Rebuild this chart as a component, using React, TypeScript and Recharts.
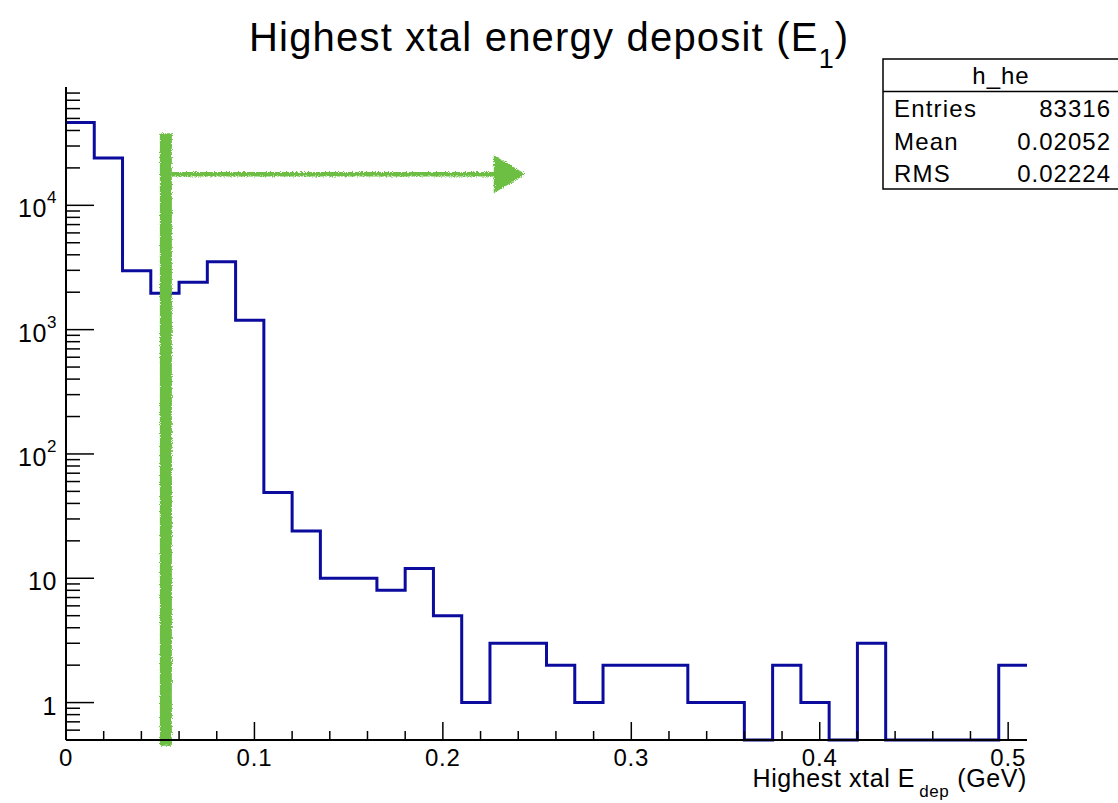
import React from 'react';
import { LineChart, Line, XAxis, YAxis, ReferenceLine } from 'recharts';

// h_he: highest crystal energy deposit, 34 bins of 15 MeV
const BIN_WIDTH = 0.015;
const COUNTS = [
  46300, 24000, 2970, 1960, 2410, 3510, 1190, 49, 24, 10, 10, 8, 12, 5, 1, 3, 3,
  2, 1, 2, 2, 2, 1, 1, 0, 2, 1, 0, 3, 0, 0, 0, 0, 2,
];

const STATS = [
  { name: 'Entries', value: '83316' },
  { name: 'Mean', value: '0.02052' },
  { name: 'RMS', value: '0.02224' },
];

const X_MAX = 0.51;
const Y_MIN = 0.5;
const Y_MAX = 89500;
const X_MAJOR = [0, 0.1, 0.2, 0.3, 0.4, 0.5];
const Y_MAJOR = [1, 10, 100, 1000, 10000];

// cut on E1 and the accepted region arrow
const CUT_E = 0.053;
const CUT_TOP = 38000;
const CUT_BOTTOM = 0.45;
const ARROW_END = 0.244;
const ARROW_LEVEL = 17800;

const W = 1118;
const H = 803;
const FONT = '"Liberation Sans", Arial, Helvetica, sans-serif';
const BLUE = '#0b0b9e';
const GREEN = '#6cbf43';

// step rows: one point per low bin edge, plus the upper edge of the last bin
const rows = COUNTS.map((c, i) => ({ e: +(i * BIN_WIDTH).toFixed(3), n: Math.max(c, Y_MIN) }));
rows.push({ e: X_MAX, n: Math.max(COUNTS[COUNTS.length - 1], Y_MIN) });

// minor ticks every 0.02 on x, 2..9 per decade on y
const xTicks: number[] = [];
for (let i = 0; i * 0.02 <= 0.5 + 1e-9; i++) xTicks.push(+(i * 0.02).toFixed(2));
const yTicks: number[] = [];
for (let d = -1; d <= 4; d++) {
  for (let m = 1; m <= 9; m++) {
    const v = +(m * Math.pow(10, d)).toPrecision(3);
    if (v > Y_MIN && v < Y_MAX) yTicks.push(v);
  }
}

const isMajorX = (v: number) => X_MAJOR.some((m) => Math.abs(m - v) < 1e-9);

const XTick = (props: any) => {
  const { x, y, payload } = props;
  const v = payload.value as number;
  const major = isMajorX(v);
  return (
    <g>
      <line x1={x} x2={x} y1={y} y2={y - (major ? 18 : 9)} stroke="#000" strokeWidth={1.5} />
      {major && (
        <text x={x} y={y + 26} textAnchor="middle" fontSize={24} letterSpacing={0.8} fontFamily={FONT} fill="#000">
          {v === 0 ? '0' : String(v)}
        </text>
      )}
    </g>
  );
};

const YTick = (props: any) => {
  const { x, y, payload } = props;
  const v = payload.value as number;
  const major = Y_MAJOR.includes(v);
  const exp = Math.round(Math.log10(v));
  return (
    <g>
      <line x1={x} x2={x + (major ? 28 : 14)} y1={y} y2={y} stroke="#000" strokeWidth={1.5} />
      {major && (
        <text x={x - 9} y={y + 12} textAnchor="end" fontSize={25} letterSpacing={0.6} fontFamily={FONT} fill="#000">
          {exp < 2 ? (
            String(v)
          ) : (
            <>
              10
              <tspan dy={-14} fontSize={17}>
                {exp}
              </tspan>
            </>
          )}
        </text>
      )}
    </g>
  );
};

const ChalkLine = (p: any) => (
  <line x1={p.x1} y1={p.y1} x2={p.x2} y2={p.y2} stroke={GREEN} strokeWidth={12} filter="url(#chalk)" />
);

const ChalkArrow = (p: any) => {
  const head = 32;
  return (
    <g filter="url(#chalk)">
      <line x1={p.x1 + 6} y1={p.y1} x2={p.x2 - head + 4} y2={p.y2} stroke={GREEN} strokeWidth={4.5} />
      <polygon
        points={`${p.x2 - head},${p.y2 - 19} ${p.x2},${p.y2} ${p.x2 - head},${p.y2 + 19}`}
        fill={GREEN}
      />
    </g>
  );
};

export default function App() {
  return (
    <div style={{ position: 'absolute', left: 0, top: 0, width: W, height: H, overflow: 'hidden', background: '#fff' }}>
      <svg width={0} height={0} style={{ position: 'absolute' }}>
        <defs>
          <filter id="chalk" filterUnits="userSpaceOnUse" x="0" y="0" width={W} height={H}>
            <feTurbulence type="fractalNoise" baseFrequency="0.9" numOctaves="2" seed="4" result="noise" />
            <feDisplacementMap in="SourceGraphic" in2="noise" scale="4" xChannelSelector="R" yChannelSelector="G" />
          </filter>
        </defs>
      </svg>

      <LineChart width={W} height={H} data={rows} margin={{ top: 87, right: 91, bottom: 0, left: 0 }}>
        <XAxis
          dataKey="e"
          type="number"
          domain={[0, X_MAX]}
          ticks={xTicks}
          interval={0}
          tick={<XTick />}
          tickLine={false}
          tickSize={0}
          tickMargin={0}
          height={63}
          axisLine={{ stroke: '#000', strokeWidth: 2 }}
        />
        <XAxis
          xAxisId="top"
          orientation="top"
          type="number"
          domain={[0, X_MAX]}
          height={0}
          tick={false}
          tickLine={false}
          axisLine={{ stroke: '#000', strokeWidth: 2 }}
        />
        <YAxis
          scale="log"
          type="number"
          domain={[Y_MIN, Y_MAX]}
          ticks={yTicks}
          interval={0}
          tick={<YTick />}
          tickLine={false}
          tickSize={0}
          tickMargin={0}
          width={66}
          axisLine={{ stroke: '#000', strokeWidth: 2 }}
        />
        <YAxis
          yAxisId="right"
          orientation="right"
          width={0}
          tick={false}
          tickLine={false}
          axisLine={{ stroke: '#000', strokeWidth: 2 }}
        />
        <Line
          type="stepAfter"
          dataKey="n"
          stroke={BLUE}
          strokeWidth={3}
          dot={false}
          activeDot={false}
          isAnimationActive={false}
        />
        <ReferenceLine
          ifOverflow="visible"
          segment={[{ x: CUT_E, y: CUT_TOP }, { x: CUT_E, y: CUT_BOTTOM }]}
          shape={(p: any) => <ChalkLine {...p} />}
        />
        <ReferenceLine
          ifOverflow="visible"
          segment={[{ x: CUT_E, y: ARROW_LEVEL }, { x: ARROW_END, y: ARROW_LEVEL }]}
          shape={(p: any) => <ChalkArrow {...p} />}
        />
      </LineChart>

      <svg width={W} height={H} style={{ position: 'absolute', left: 0, top: 0, pointerEvents: 'none' }}>
        <text x={249} y={51} fontSize={40} letterSpacing={1.2} fontFamily={FONT} fill="#000">
          Highest xtal energy deposit (E
          <tspan dy={17} fontSize={27}>
            1
          </tspan>
          <tspan dy={-17}>)</tspan>
        </text>

        <text x={1027} y={787} textAnchor="end" fontSize={25} letterSpacing={0.6} fontFamily={FONT} fill="#000">
          Highest xtal E
          <tspan dy={10} dx={4} fontSize={17}>
            dep
          </tspan>
          <tspan dy={-10} dx={8}>
            (GeV)
          </tspan>
        </text>

        <rect x={883} y={59} width={240} height={130} fill="#fff" stroke="#000" strokeWidth={1.5} />
        <line x1={883} x2={W} y1={91.5} y2={91.5} stroke="#000" strokeWidth={1.5} />
        <text x={1001} y={84} textAnchor="middle" fontSize={24} letterSpacing={1} fontFamily={FONT} fill="#000">
          h_he
        </text>
        {STATS.map((s, i) => (
          <g key={s.name}>
            <text x={894} y={117 + i * 32.5} fontSize={24} letterSpacing={1.2} fontFamily={FONT} fill="#000">
              {s.name}
            </text>
            <text x={1111} y={117 + i * 32.5} textAnchor="end" fontSize={24} letterSpacing={1} fontFamily={FONT} fill="#000">
              {s.value}
            </text>
          </g>
        ))}
      </svg>
    </div>
  );
}
